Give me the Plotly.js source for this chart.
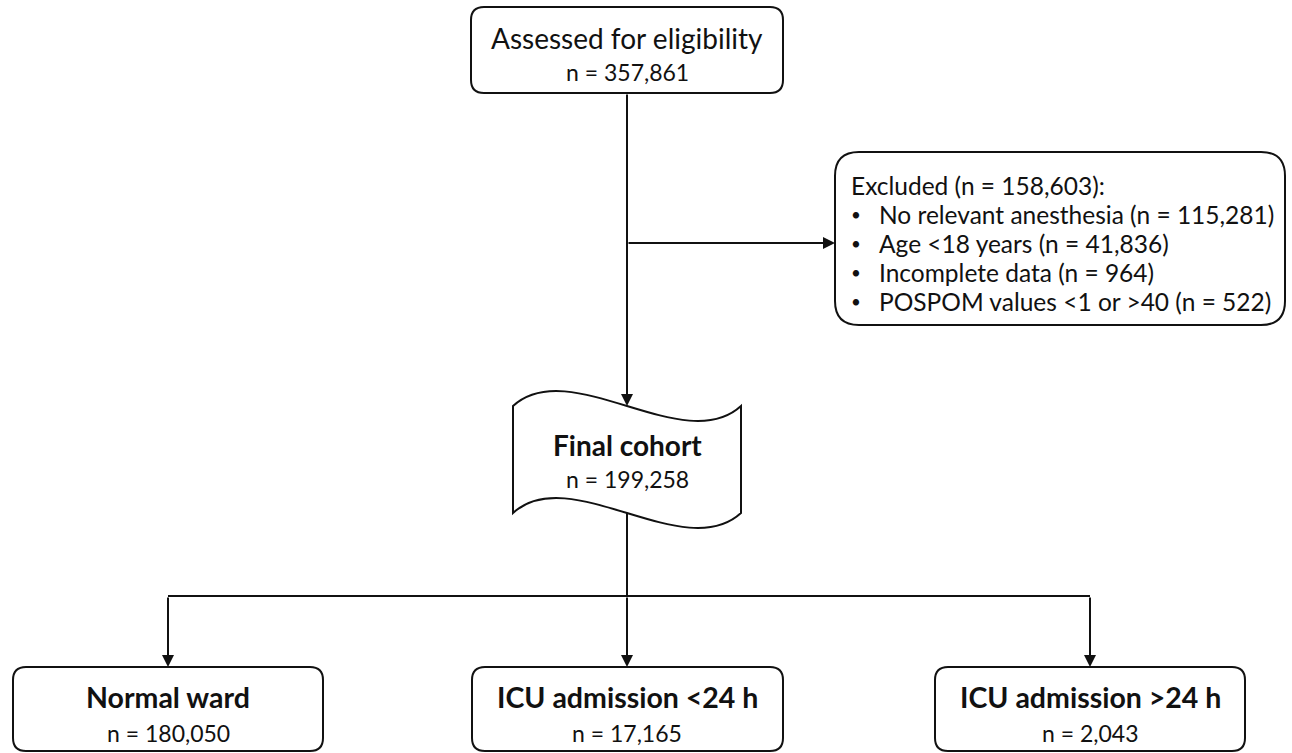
<!DOCTYPE html>
<html><head><meta charset="utf-8">
<script src="https://cdn.plot.ly/plotly-3.0.1.min.js"></script>
<style>html,body{margin:0;padding:0;background:#fff}</style>
</head><body><div id="chart" style="width:1292px;height:753px"></div>
<script>
// ---- data ----
const stageLabels = ['Assessed for eligibility', 'Final cohort'];
const stageCounts = [357861, 199258];
const excludedLabel = 'Excluded';
const excludedTotal = 158603;
const excludedReasons = ['No relevant anesthesia', 'Age <18 years', 'Incomplete data', 'POSPOM values <1 or >40'];
const excludedCounts = [115281, 41836, 964, 522];
const groupLabels = ['Normal ward', 'ICU admission <24 h', 'ICU admission >24 h'];
const groupCounts = [180050, 17165, 2043];

// ---- helpers ----
const fmt = n => n.toLocaleString('en-US');
const INK = '#111111';
const FONT = 'Lato, "Open Sans", sans-serif';
const LW = 2;

function rrect(x0, y0, x1, y1, r) {
  return `M${x0+r},${y0} L${x1-r},${y0} Q${x1},${y0} ${x1},${y0+r} L${x1},${y1-r} Q${x1},${y1} ${x1-r},${y1} ` +
         `L${x0+r},${y1} Q${x0},${y1} ${x0},${y1-r} L${x0},${y0+r} Q${x0},${y0} ${x0+r},${y0} Z`;
}
function tape(x0, yt, x1, yb, k) {
  const w = x1 - x0;
  return `M${x0},${yt} C${x0+w*0.25},${yt-k} ${x0+w*0.75},${yt+k} ${x1},${yt} L${x1},${yb} ` +
         `C${x0+w*0.75},${yb+k} ${x0+w*0.25},${yb-k} ${x0},${yb} Z`;
}
const shapes = [];
function addPath(p) {
  shapes.push({type:'path', xref:'x', yref:'y', path:p, line:{color:INK, width:LW}, fillcolor:'rgba(0,0,0,0)', layer:'above'});
}
function addLine(x0, y0, x1, y1) {
  shapes.push({type:'line', xref:'x', yref:'y', x0, y0, x1, y1, line:{color:INK, width:LW}, layer:'above'});
}
const ann = [];
function txt(x, y, text, size, opts) {
  ann.push(Object.assign({x, y, xref:'x', yref:'y', text, showarrow:false, xanchor:'center', yanchor:'middle',
    font:{family:FONT, size, color:INK}}, opts || {}));
}
function arrow(x0, y0, x1, y1) {
  ann.push({x:x1, y:y1, ax:x0, ay:y0, xref:'x', yref:'y', axref:'x', ayref:'y', text:'', showarrow:true,
    arrowhead:2, arrowsize:1.2, arrowwidth:LW, arrowcolor:INK, standoff:0, startstandoff:0});
}

// ---- boxes ----
const cx = 627;
addPath(rrect(471, 7, 783, 93, 13));
txt(cx, 38, stageLabels[0], 28);
txt(cx, 72, 'n = ' + fmt(stageCounts[0]), 23);

addPath(rrect(835, 152, 1285, 325, 24));
txt(849, 185, `${excludedLabel} (n = ${fmt(excludedTotal)}):`, 24.5, {xanchor:'left'});
excludedReasons.forEach((r, i) => {
  const y = 214 + i * 29;
  txt(856, y, '•', 17);
  txt(877, y, `${r} (n = ${fmt(excludedCounts[i])})`, 24.5, {xanchor:'left'});
});

addPath(tape(513, 406, 741, 513, 52));
txt(cx, 445, '<b>' + stageLabels[1] + '</b>', 28);
txt(cx, 479, 'n = ' + fmt(stageCounts[1]), 23);

const gx = [168, 627, 1090];
const gbox = [[13, 323], [472, 783], [935, 1245]];
groupLabels.forEach((g, i) => {
  addPath(rrect(gbox[i][0], 667, gbox[i][1], 751, 13));
  txt(gx[i], 697, '<b>' + g + '</b>', 28.5);
  txt(gx[i], 733, 'n = ' + fmt(groupCounts[i]), 23);
});

// ---- connectors ----
arrow(cx, 93, cx, 406);
arrow(cx, 243, 835, 243);
addLine(cx, 513, cx, 596);
addLine(gx[0], 596, gx[2], 596);
gx.forEach(x => arrow(x, 596, x, 667));

const layout = {
  width:1292, height:753, margin:{l:0, r:0, t:0, b:0},
  paper_bgcolor:'#fff', plot_bgcolor:'#fff', showlegend:false,
  xaxis:{range:[0,1292], visible:false, fixedrange:true},
  yaxis:{range:[753,0], visible:false, fixedrange:true},
  shapes, annotations: ann
};
Plotly.newPlot('chart', [{x:[0], y:[0], mode:'markers', marker:{opacity:0}, hoverinfo:'skip'}], layout, {displayModeBar:false, staticPlot:true});
</script></body></html>
